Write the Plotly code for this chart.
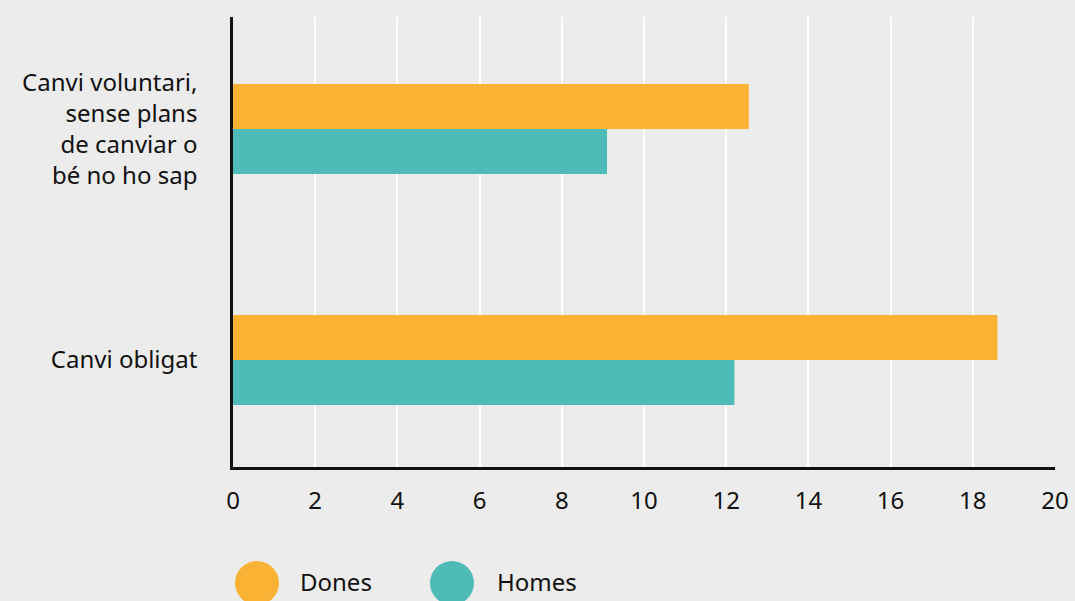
import plotly.graph_objects as go

# Data
categories = ["Canvi obligat", "Canvi voluntari,<br>sense plans<br>de canviar o<br>bé no ho sap"]
dones = [18.6, 12.55]
homes = [12.2, 9.1]
x_ticks = [0, 2, 4, 6, 8, 10, 12, 14, 16, 18, 20]

ORANGE = "#F9B233"
TEAL = "#4EBBB8"
BG = "#ECECEC"
FONT = "'Noto Sans', 'Open Sans', sans-serif"

fig = go.Figure()
fig.add_trace(go.Bar(y=categories, x=homes, orientation="h", name="Homes",
                     marker=dict(color=TEAL, line=dict(width=0)), showlegend=False))
fig.add_trace(go.Bar(y=categories, x=dones, orientation="h", name="Dones",
                     marker=dict(color=ORANGE, line=dict(width=0)), showlegend=False))

W, H = 1075, 601
L, R, T, B = 233, 20, 17, 134
pw, ph = W - L - R, H - T - B

fig.update_layout(
    width=W, height=H,
    margin=dict(l=L, r=R, t=T, b=B, pad=0),
    paper_bgcolor=BG, plot_bgcolor=BG,
    barmode="group", bargap=0.61, bargroupgap=0,
    font=dict(family=FONT, size=24, color="#111111"),
    xaxis=dict(range=[0, 20], tickvals=x_ticks, showgrid=True, gridcolor="#FFFFFF",
               gridwidth=1.5, zeroline=False, showline=True, linecolor="#111111",
               linewidth=2.5, ticks="", ticklabelstandoff=10, automargin=False,
               fixedrange=True),
    yaxis=dict(categoryorder="array", categoryarray=categories, range=[-0.463, 1.485],
               showgrid=False, zeroline=False, showline=True, linecolor="#111111",
               linewidth=2.5, ticks="", ticklabelstandoff=28, automargin=False,
               fixedrange=True),
    showlegend=False,
)

# Legend drawn as circles and labels below the plot
def px_x(p):
    return (p - L) / pw

def px_y(p):
    return (H - B - p) / ph

legend_items = [("Dones", ORANGE, 257, 298), ("Homes", TEAL, 452, 495)]
for label, color, cx, tx in legend_items:
    fig.add_shape(type="circle", xref="paper", yref="paper",
                  xsizemode="pixel", ysizemode="pixel",
                  xanchor=px_x(cx), yanchor=px_y(583),
                  x0=-22, x1=22, y0=-22, y1=22,
                  fillcolor=color, line=dict(width=0))
    fig.add_annotation(xref="paper", yref="paper", x=px_x(tx), y=px_y(581),
                       text=label, showarrow=False, xanchor="left", yanchor="middle",
                       font=dict(family=FONT, size=24, color="#111111"))

fig.write_html("out.html")
